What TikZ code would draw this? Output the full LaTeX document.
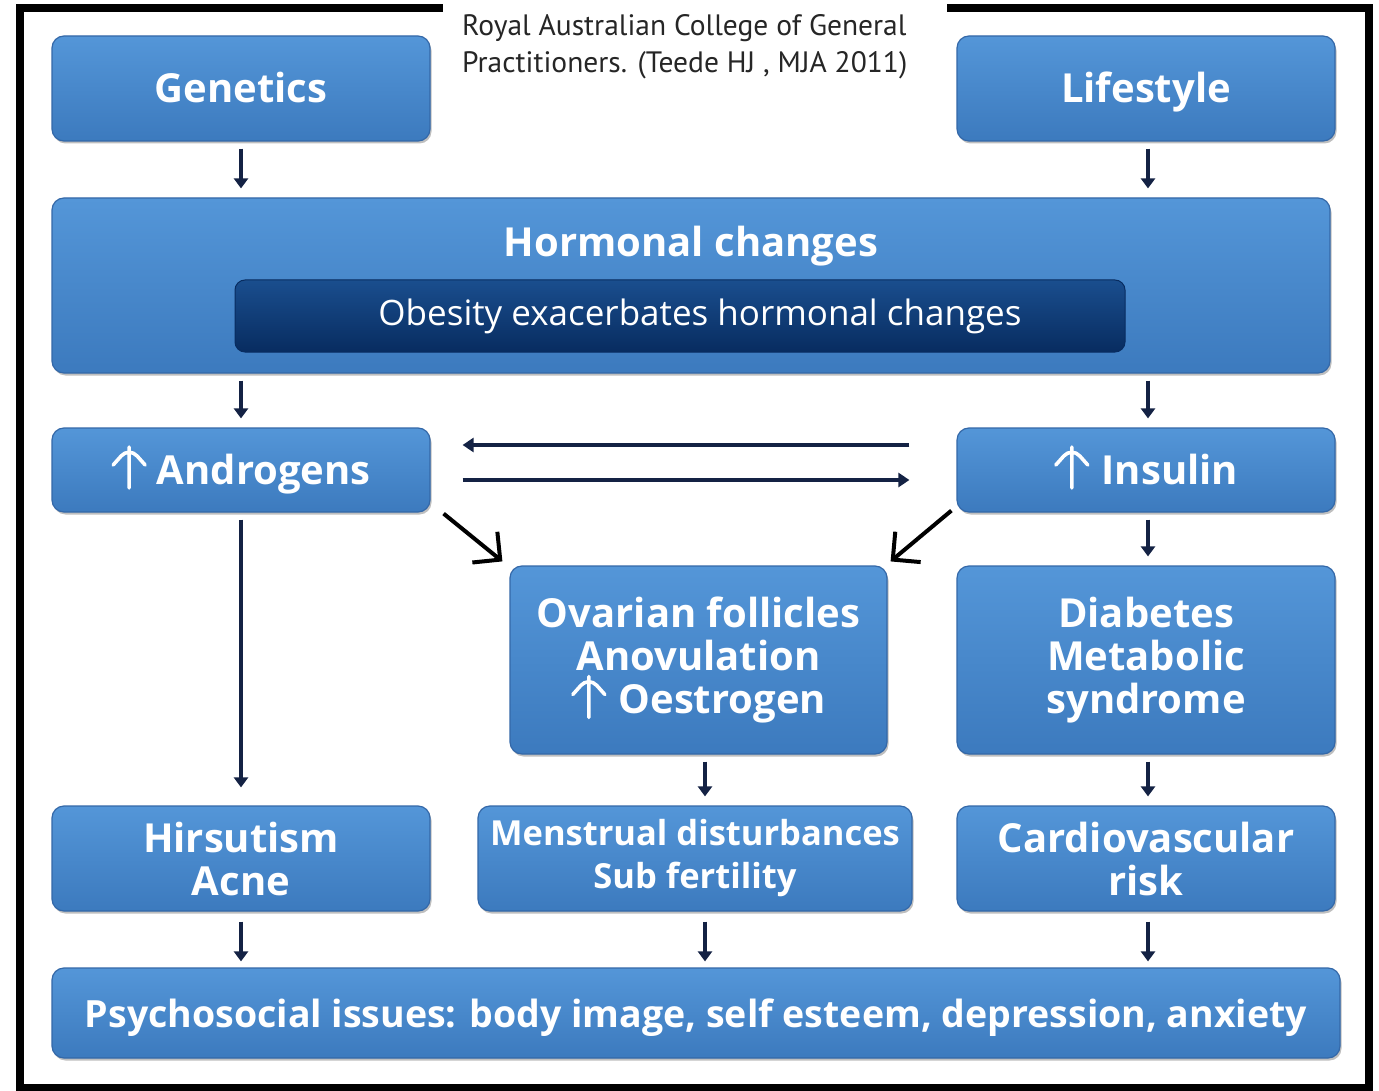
\documentclass[tikz,border=0pt]{standalone}
\usepackage{fontspec}
\setmainfont{Open Sans}
\newfontfamily\capfont{PT Sans}
\usetikzlibrary{arrows.meta,shadows,calc}
\definecolor{boxtop}{RGB}{84,150,216}
\definecolor{boxbot}{RGB}{60,122,190}
\definecolor{boxedge}{RGB}{52,104,168}
\definecolor{navytop}{RGB}{26,78,142}
\definecolor{navybot}{RGB}{8,44,96}
\definecolor{arrowc}{RGB}{20,34,68}
\newcommand{\upar}{\tikz[x=1pt,y=1pt,baseline=0pt]{\draw[white, line width=3.6pt, line cap=round, line join=round] (0,-4)--(0,37) (-16,19)--(0,37)--(16,19);}}
\begin{document}
\begin{tikzpicture}[x=1pt,y=-1pt,
  bluebox/.style={rounded corners=12pt, top color=boxtop, bottom color=boxbot,
    draw=boxedge, line width=1.2pt, text=white, align=center, inner sep=0pt,
    font=\fontsize{40}{43}\selectfont\bfseries,
    drop shadow={shadow xshift=1.5pt, shadow yshift=-2.5pt, opacity=0.25, fill=black}},
  oneline/.style={text height=28pt, text depth=0pt},
  navybox/.style={rounded corners=10pt, top color=navytop, bottom color=navybot,
    draw=navybot, line width=1pt, text=white, inner sep=0pt,
    font=\fontsize{35}{38}\selectfont},
  varrow/.style={draw=arrowc, line width=4pt, -{Triangle[width=14pt,length=10pt]},
    shorten <=7pt, shorten >=9pt},
  harrow/.style={draw=arrowc, line width=4.5pt, -{Triangle[width=14pt,length=11pt]}},
  darrow/.style={draw=black, line width=4pt, -{Straight Barb[angle=90:28pt, line width=4pt]}},
]
\useasboundingbox (0,0) rectangle (1379,1091);
\fill[white] (0,0) rectangle (1379,1091);
% frame
\draw[black, line width=8pt] (20,8) rectangle (1369,1088);
% caption
\fill[white] (443,0) rectangle (947,30);
\node[anchor=north west, align=left, inner sep=0pt, text=black!85,
  font=\capfont\fontsize{29.5}{37}\selectfont] (cap) at (462,14)
  {Royal Australian College of General\\Practitioners. (Teede HJ , MJA 2011)};

% boxes
\node[bluebox, oneline, minimum width=378pt, minimum height=105pt] (gen) at (241,88.5) {Genetics};
\node[bluebox, oneline, minimum width=378pt, minimum height=105pt] (life) at (1146,88.5) {Lifestyle};
\node[bluebox, minimum width=1278pt, minimum height=175pt] (horm) at (691,285.5) {};
\node[anchor=base, text=white, font=\fontsize{40}{43}\selectfont\bfseries, inner sep=0pt] (hormt) at (691,257) {Hormonal changes};
\node[navybox, text height=25pt, text depth=5pt, minimum width=890pt, minimum height=72pt] (obes) at (680,316) {\hspace*{40pt}Obesity exacerbates hormonal changes};
\node[bluebox, oneline, minimum width=378pt, minimum height=84pt] (andr) at (241,470) {\upar\hspace{10pt}Androgens};
\node[bluebox, oneline, minimum width=378pt, minimum height=84pt] (ins) at (1146,470) {\upar\hspace{12pt}Insulin};
\node[bluebox, minimum width=377pt, minimum height=188pt] (ovar) at (698.5,660) {Ovarian follicles\\Anovulation\\\upar\hspace{12pt}Oestrogen};
\node[bluebox, minimum width=378pt, minimum height=188pt] (diab) at (1146,660) {Diabetes\\Metabolic\\syndrome};
\node[bluebox, minimum width=378pt, minimum height=105pt] (hirs) at (241,858.5) {Hirsutism\\Acne};
\node[bluebox, minimum width=434pt, minimum height=105pt, font=\fontsize{34.5}{43}\selectfont\bfseries] (mens) at (695,858.5) {Menstrual disturbances\\Sub fertility};
\node[bluebox, minimum width=378pt, minimum height=105pt] (card) at (1146,858.5) {Cardiovascular\\risk};
\node[bluebox, oneline, minimum width=1288pt, minimum height=90pt, font=\fontsize{37.5}{43}\selectfont\bfseries] (psy) at (696,1013) {Psychosocial issues: body image, self esteem, depression, anxiety};

% vertical arrows
\draw[varrow] (gen.south) -- (gen.south |- horm.north);
\draw[varrow] ([xshift=2pt]life.south) -- ([xshift=2pt]life.south |- horm.north);
\draw[varrow] (andr.north |- horm.south) -- (andr.north);
\draw[varrow] ([xshift=2pt]ins.north |- horm.south) -- ([xshift=2pt]ins.north);
\draw[varrow] ([xshift=2pt]ins.south) -- ([xshift=2pt]diab.north);
\draw[varrow, shorten >=18pt] (andr.south) -- (hirs.north);
\draw[varrow] ([xshift=6.5pt]ovar.south) -- ([xshift=6.5pt]ovar.south |- mens.north);
\draw[varrow] ([xshift=2pt]diab.south) -- ([xshift=2pt]card.north);
\draw[varrow, shorten <=10pt, shorten >=6pt] (hirs.south) -- (hirs.south |- psy.north);
\draw[varrow, shorten <=10pt, shorten >=6pt] ([xshift=10pt]mens.south) -- ([xshift=10pt]mens.south |- psy.north);
\draw[varrow, shorten <=10pt, shorten >=6pt] ([xshift=2pt]card.south) -- ([xshift=2pt]card.south |- psy.north);

% horizontal arrows
\draw[harrow, shorten <=47pt, shorten >=32pt] ([yshift=25pt]ins.west) -- ([yshift=25pt]ins.west -| andr.east);
\draw[harrow, shorten <=32pt, shorten >=47pt] ([yshift=-10pt]andr.east) -- ([yshift=-10pt]andr.east -| ins.west);

% diagonal arrows
\draw[darrow] ([xshift=13pt,yshift=-1pt]andr.south east) -- ([xshift=-7pt,yshift=4pt]ovar.north west);
\draw[darrow] ([xshift=-5pt,yshift=2pt]ins.south west) -- ([xshift=3pt,yshift=4pt]ovar.north east);
\end{tikzpicture}
\end{document}
